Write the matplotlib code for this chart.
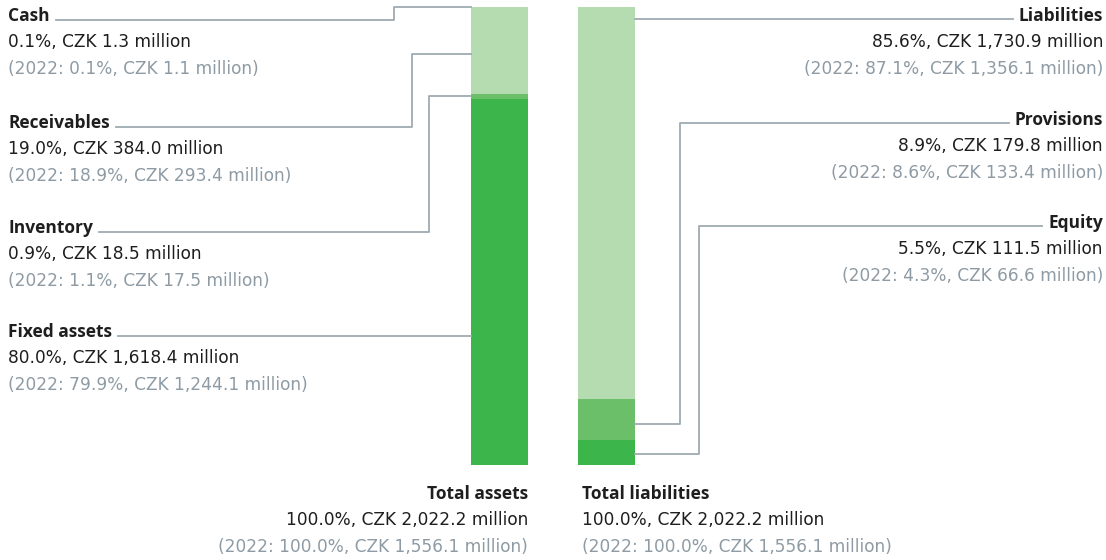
import matplotlib
matplotlib.use("Agg")
import matplotlib.pyplot as plt

# shares of the balance sheet, bottom to top
asset_names = ['Fixed assets', 'Inventory', 'Receivables', 'Cash']
asset_pct = [80.0, 0.9, 19.0, 0.1]
asset_now = ['80.0%, CZK 1,618.4 million', '0.9%, CZK 18.5 million',
             '19.0%, CZK 384.0 million', '0.1%, CZK 1.3 million']
asset_prev = ['(2022: 79.9%, CZK 1,244.1 million)', '(2022: 1.1%, CZK 17.5 million)',
              '(2022: 18.9%, CZK 293.4 million)', '(2022: 0.1%, CZK 1.1 million)']

liab_names = ['Equity', 'Provisions', 'Liabilities']
liab_pct = [5.5, 8.9, 85.6]
liab_now = ['5.5%, CZK 111.5 million', '8.9%, CZK 179.8 million',
            '85.6%, CZK 1,730.9 million']
liab_prev = ['(2022: 4.3%, CZK 66.6 million)', '(2022: 8.6%, CZK 133.4 million)',
             '(2022: 87.1%, CZK 1,356.1 million)']

totals = ['Total assets', 'Total liabilities']
total_now = '100.0%, CZK 2,022.2 million'
total_prev = '(2022: 100.0%, CZK 1,556.1 million)'

asset_colors = ['#3cb54a', '#6bbf68', '#b5dcb0', '#b5dcb0']
liab_colors = ['#3cb54a', '#6bbf68', '#b5dcb0']

DARK = '#1e1e1e'
GREY = '#8e9ba4'
LINE = '#9eaab2'

W, H = 1106, 560
fig = plt.figure(figsize=(W / 100, H / 100), dpi=100)

# bar axes: x in pixels, y in percent; bars occupy y 7..465 px
top_px, bot_px = 7, 465
ax = fig.add_axes([0, (H - bot_px) / H, 1, (bot_px - top_px) / H])
ax.set_xlim(0, W)
ax.set_ylim(0, 100)
ax.axis('off')

xl, xr, bw = 499.5, 606.5, 57
bottom = 0
for v, c in zip(asset_pct, asset_colors):
    ax.bar(xl, v, bottom=bottom, width=bw, color=c, linewidth=0)
    bottom += v
bottom = 0
for v, c in zip(liab_pct, liab_colors):
    ax.bar(xr, v, bottom=bottom, width=bw, color=c, linewidth=0)
    bottom += v

# overlay in pixel coords for labels and leader lines
ov = fig.add_axes([0, 0, 1, 1])
ov.set_xlim(0, W)
ov.set_ylim(H, 0)
ov.axis('off')

def pct_to_px(p):
    return bot_px - p / 100 * (bot_px - top_px)

fig.canvas.draw()
r = fig.canvas.get_renderer()

def block(x, y, name, now, prev, ha):
    t = ov.text(x, y, name, ha=ha, va='baseline', fontsize=12.5, fontweight='bold',
                color=DARK, family='Open Sans')
    ov.text(x, y + 26, now, ha=ha, va='baseline', fontsize=12.25, color=DARK,
            family='DejaVu Sans')
    ov.text(x, y + 53, prev, ha=ha, va='baseline', fontsize=12.25, color=GREY,
            family='DejaVu Sans')
    bb = t.get_window_extent(r)
    return bb.x0, bb.x1

# left side: baseline of label, elbow x, attach point on bar (percent)
left_base = [337, 233, 128, 21]
left_elbow = [None, 429, 412, 394]
left_attach = [None, 80.6, 89.7, 100]
bar_l = xl - bw / 2
for i in range(4):
    x0, x1 = block(8, left_base[i], asset_names[i], asset_now[i], asset_prev[i], 'left')
    ly = left_base[i] - 1
    if left_elbow[i] is None:
        ov.plot([x1 + 6, bar_l], [ly, ly], color=LINE, lw=1.3)
    else:
        ay = pct_to_px(left_attach[i])
        ov.plot([x1 + 6, left_elbow[i], left_elbow[i], bar_l], [ly, ly, ay, ay],
                color=LINE, lw=1.3)

right_base = [228, 125, 21]
right_elbow = [699, 680, None]
right_attach = [2.4, 8.95, None]
bar_r = xr + bw / 2
for i in range(3):
    x0, x1 = block(1103, right_base[i], liab_names[i], liab_now[i], liab_prev[i], 'right')
    ly = right_base[i] - 2
    if right_elbow[i] is None:
        ov.plot([bar_r, x0 - 6], [ly, ly], color=LINE, lw=1.3)
    else:
        ay = pct_to_px(right_attach[i])
        ov.plot([bar_r, right_elbow[i], right_elbow[i], x0 - 6], [ay, ay, ly, ly],
                color=LINE, lw=1.3)

block(528, 499, totals[0], total_now, total_prev, 'right')
block(582, 499, totals[1], total_now, total_prev, 'left')

fig.savefig('out.png', dpi=100)
